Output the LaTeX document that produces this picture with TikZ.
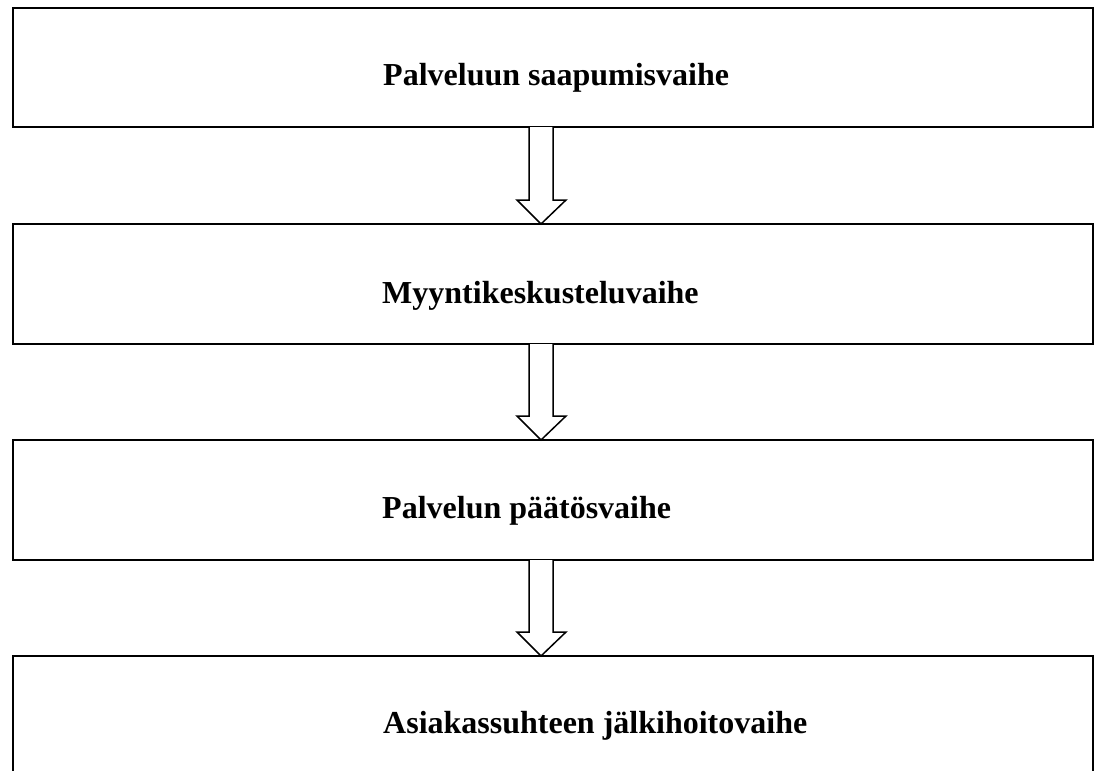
\documentclass[tikz,border=0pt]{standalone}
\usepackage{fontspec}
\setmainfont{Liberation Serif}
\usetikzlibrary{calc}

\begin{document}
\begin{tikzpicture}[x=1pt,y=1pt]
  \tikzstyle{phase}=[draw,line width=2pt,minimum width=1080pt,outer sep=0pt,inner sep=0pt]
  \tikzstyle{label}=[anchor=base west,font=\fontsize{32}{38}\selectfont\bfseries,inner sep=0pt]
  \tikzstyle{blockarrow}=[line width=1.5pt,fill=white,line join=miter]
  \clip (0,0) rectangle (1098,-771);
  \fill[white] (0,0) rectangle (1098,-771);

  \node[phase,minimum height=119pt] (b1) at (553,-67.5) {};
  \node[phase,minimum height=120pt] (b2) at (553,-284)  {};
  \node[phase,minimum height=120pt] (b3) at (553,-500)  {};
  \node[phase,minimum height=130pt] (b4) at (553,-721)  {};

  \node[label] (t1) at (383,-85)  {Palveluun saapumisvaihe};
  \node[label] (t2) at (382,-303) {Myyntikeskusteluvaihe};
  \node[label] (t3) at (382,-518) {Palvelun päätösvaihe};
  \node[label] (t4) at (383,-733) {Asiakassuhteen jälkihoitovaihe};

  \foreach \a/\b in {b1/b2,b2/b3,b3/b4}
    \draw[blockarrow] ($(\a.south)+(-24,0)$) -- ($(\b.north)+(-24,24)$)
      -- ($(\b.north)+(-36,24)$) -- ($(\b.north)+(-12,0)$)
      -- ($(\b.north)+(13,24)$) -- ($(\b.north)+(0,24)$)
      -- (\a.south);
\end{tikzpicture}
\end{document}
